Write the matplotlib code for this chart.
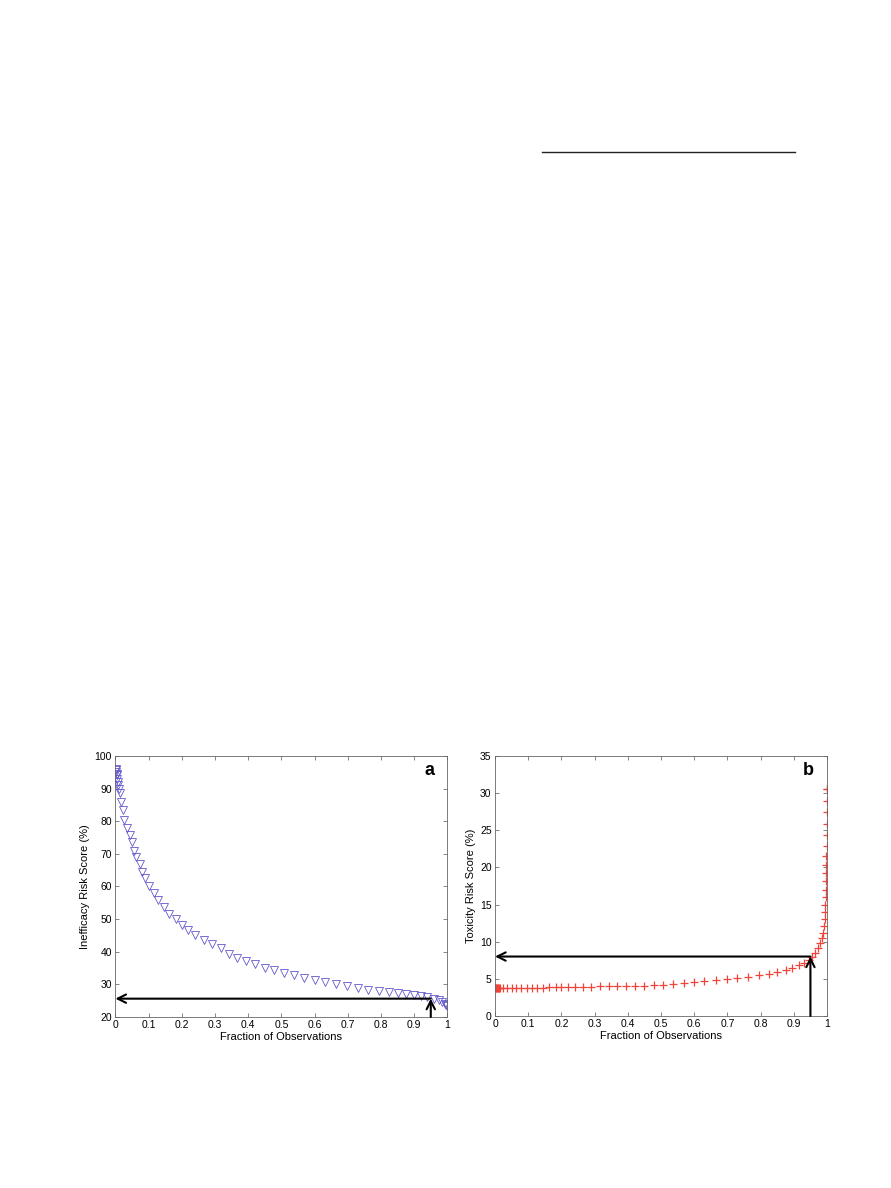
import matplotlib.pyplot as plt
from matplotlib.lines import Line2D

plt.rcParams['font.family'] = ['Liberation Sans', 'DejaVu Sans']

# panel a: inefficacy risk score
frac_a = [0.001, 0.002, 0.003, 0.004, 0.005, 0.006, 0.007, 0.008, 0.010, 0.013,
          0.018, 0.023, 0.027, 0.035, 0.043, 0.050, 0.055, 0.063, 0.075, 0.081,
          0.090, 0.100, 0.115, 0.128, 0.146, 0.160, 0.184, 0.200, 0.220, 0.241,
          0.266, 0.290, 0.317, 0.342, 0.367, 0.394, 0.420, 0.450, 0.479, 0.507,
          0.538, 0.568, 0.600, 0.630, 0.665, 0.698, 0.730, 0.762, 0.794, 0.824,
          0.850, 0.874, 0.900, 0.920, 0.940, 0.960, 0.975, 0.985, 0.992, 0.996,
          1.000]
score_a = [96.0, 95.6, 95.2, 94.6, 94.0, 93.0, 92.0, 91.0, 90.0, 88.5,
           86.0, 83.4, 80.4, 78.0, 75.8, 73.7, 71.0, 69.0, 67.0, 64.5,
           62.5, 60.0, 58.0, 55.8, 53.8, 51.7, 50.0, 48.1, 46.6, 45.0,
           43.5, 42.3, 41.0, 39.4, 38.2, 37.2, 36.2, 35.1, 34.3, 33.5,
           32.8, 32.0, 31.3, 30.8, 30.2, 29.5, 29.0, 28.4, 28.0, 27.6,
           27.2, 26.9, 26.6, 26.3, 26.0, 25.6, 25.1, 24.6, 24.1, 23.6,
           23.2]

# panel b: toxicity risk score
frac_b = [0.000, 0.002, 0.004, 0.006, 0.008, 0.010, 0.013, 0.016, 0.025, 0.037,
          0.050, 0.062, 0.077, 0.095, 0.110, 0.127, 0.145, 0.163, 0.183, 0.200,
          0.220, 0.241, 0.264, 0.289, 0.317, 0.342, 0.367, 0.394, 0.422, 0.450,
          0.479, 0.507, 0.535, 0.568, 0.598, 0.630, 0.665, 0.698, 0.730, 0.762,
          0.794, 0.824, 0.850, 0.875, 0.895, 0.915, 0.930, 0.945, 0.955, 0.965,
          0.973, 0.979, 0.984, 0.988, 0.991, 0.993, 0.994, 0.995, 0.996, 0.997,
          0.997, 0.998, 0.998, 0.998, 0.999, 0.999, 0.999, 1.000, 1.000, 1.000,
          1.000]
score_b = [3.73, 3.73, 3.73, 3.73, 3.73, 3.74, 3.74, 3.75, 3.76, 3.77,
           3.78, 3.78, 3.79, 3.80, 3.81, 3.82, 3.83, 3.84, 3.86, 3.87,
           3.88, 3.90, 3.92, 3.95, 3.97, 4.00, 4.02, 4.05, 4.07, 4.10,
           4.14, 4.20, 4.33, 4.40, 4.55, 4.68, 4.80, 4.95, 5.05, 5.20,
           5.45, 5.70, 5.90, 6.20, 6.50, 6.80, 7.10, 7.56, 8.00, 8.50,
           9.10, 9.80, 10.5, 11.2, 12.1, 13.0, 14.0, 15.0, 16.0, 17.0,
           18.1, 19.3, 20.3, 21.5, 22.9, 24.4, 25.8, 27.4, 28.9, 30.5,
           30.5]

cutoff = 0.95
thr_a = 25.6
thr_b = 8.0


def style_axes(ax, ylabel, ylim, yticks, letter):
    ax.set_xlim(0, 1)
    ax.set_ylim(*ylim)
    ax.set_xticks([i / 10 for i in range(11)])
    ax.set_xticklabels(['0', '0.1', '0.2', '0.3', '0.4', '0.5', '0.6', '0.7', '0.8', '0.9', '1'])
    ax.set_yticks(yticks)
    ax.tick_params(direction='in', top=True, right=True, labelsize=7.5, length=3,
                   width=0.5, color='#555555', pad=2.5)
    for s in ax.spines.values():
        s.set_linewidth(0.6)
        s.set_color('#666666')
    ax.set_xlabel('Fraction of Observations', fontsize=8, labelpad=1)
    ax.set_ylabel(ylabel, fontsize=8, labelpad=3)
    ax.text(0.96, 0.975, letter, transform=ax.transAxes, fontsize=13,
            fontweight='bold', ha='right', va='top')


def arrows(ax, ybase, thr):
    ap = dict(arrowstyle='->', color='black', lw=1.5, mutation_scale=15,
              shrinkA=0, shrinkB=0)
    ax.annotate('', xy=(0, thr), xytext=(cutoff, thr), arrowprops=ap)
    ax.annotate('', xy=(cutoff, thr), xytext=(cutoff, ybase), arrowprops=ap)


fig = plt.figure(figsize=(8.91, 11.88), dpi=100)

ax1 = fig.add_axes([0.1295, 0.1440, 0.3726, 0.2197])
ax1.plot(frac_a, score_a, linestyle='none', marker='v', markersize=5.8,
         markerfacecolor='none', markeredgecolor='#6257cc', markeredgewidth=0.6)
style_axes(ax1, 'Inefficacy Risk Score (%)', (20, 100), range(20, 101, 10), 'a')
arrows(ax1, 20, thr_a)

ax2 = fig.add_axes([0.5556, 0.1448, 0.3726, 0.2189])
ax2.plot(frac_b, score_b, linestyle='none', marker='+', markersize=5.5,
         color='#f0443a', markeredgewidth=0.9)
style_axes(ax2, 'Toxicity Risk Score (%)', (0, 35), range(0, 36, 5), 'b')
arrows(ax2, 0, thr_b)

# rule line at the top of the page
fig.add_artist(Line2D([0.608, 0.892], [0.872, 0.872], color='#222222', lw=1.0))

fig.savefig('out.png', dpi=100)
